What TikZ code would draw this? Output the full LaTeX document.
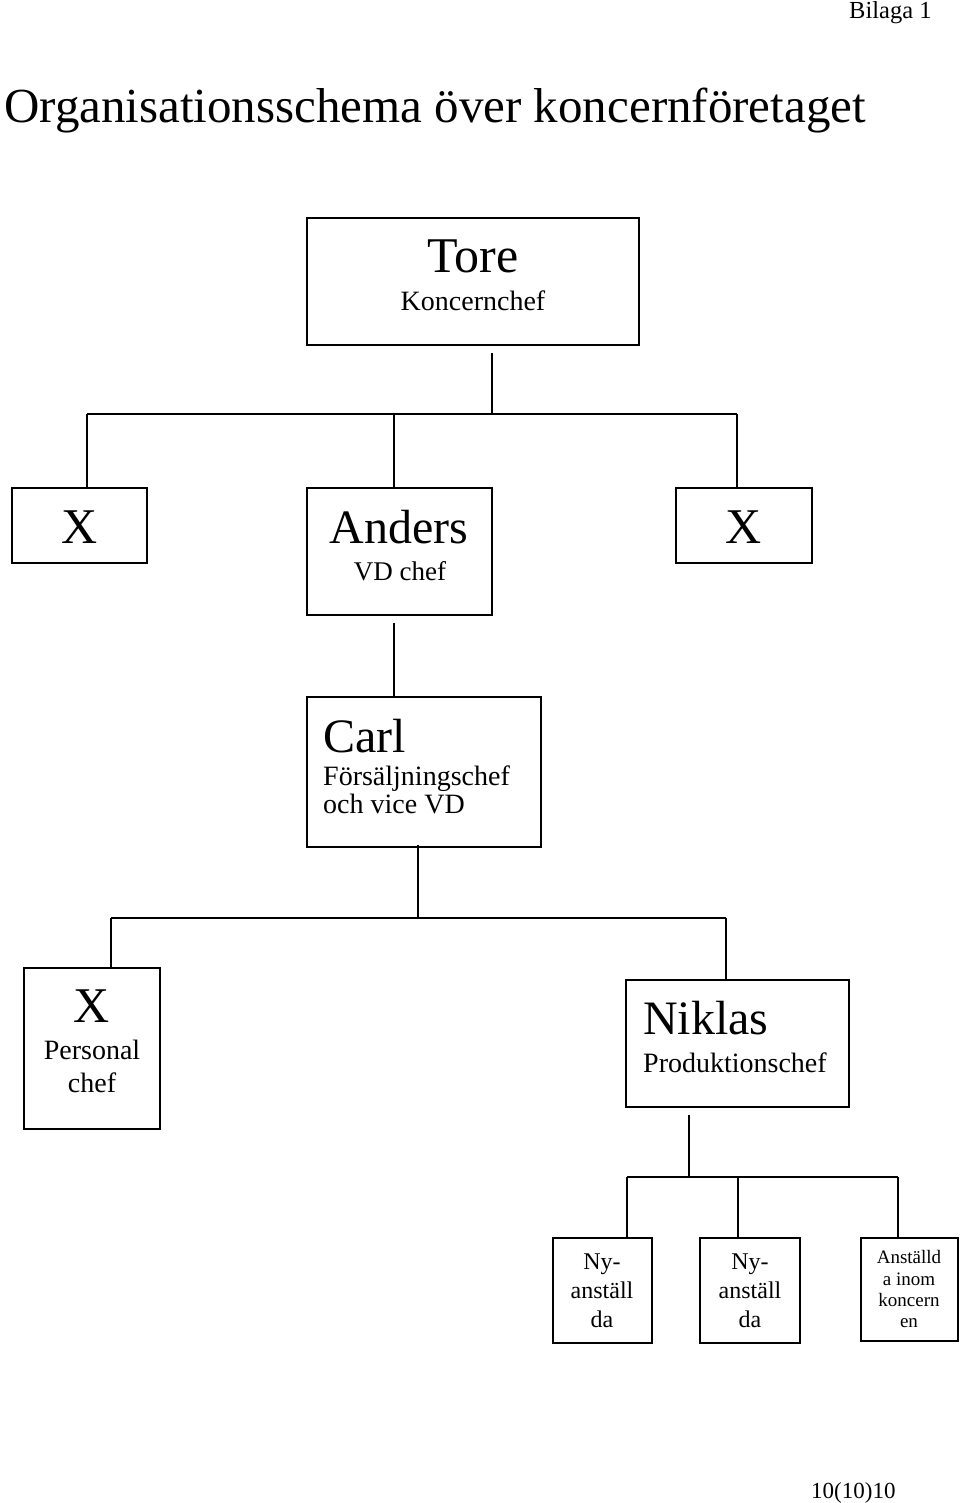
\documentclass[tikz,border=0pt]{standalone}
\usepackage{fontspec}
\setmainfont{Liberation Serif}
\newcommand{\fsz}[1]{\fontsize{#1}{#1}\selectfont}
\begin{document}
\begin{tikzpicture}[x=1pt,y=-1pt,
  box/.style={draw, line width=1.6pt, inner sep=0pt, rectangle},
  conn/.style={line width=1.6pt},
  txt/.style={inner sep=0pt, anchor=base},
  txtl/.style={inner sep=0pt, anchor=base west}]
\useasboundingbox (0,0) rectangle (960,1503);
% header
\node[txtl, font=\fsz{24.5}] (bilaga) at (849,19) {Bilaga 1};
\node[txtl, font=\fsz{49}] (title) at (4,123) {Organisationsschema över koncernföretaget};
% boxes
\node[box, minimum width=332, minimum height=127] (tore) at (473,281.5) {};
\node[box, minimum width=135, minimum height=75] (xl) at (79.5,525.5) {};
\node[box, minimum width=185, minimum height=127] (anders) at (399.5,551.5) {};
\node[box, minimum width=136, minimum height=75] (xr) at (744,525.5) {};
\node[box, minimum width=234, minimum height=150] (carl) at (424,772) {};
\node[box, minimum width=136, minimum height=161] (pers) at (92,1048.5) {};
\node[box, minimum width=223, minimum height=127] (niklas) at (737.5,1043.5) {};
\node[box, minimum width=99, minimum height=105] (ny1) at (602.5,1290.5) {};
\node[box, minimum width=100, minimum height=105] (ny2) at (750,1290.5) {};
\node[box, minimum width=97, minimum height=103] (ans) at (909.5,1289.5) {};
% texts
\node[txt, font=\fsz{50}] at (473,273) {Tore};
\node[txt, font=\fsz{28}] at (473,310) {Koncernchef};
\node[txt, font=\fsz{50}] at (80,543) {X};
\node[txt, font=\fsz{48}] at (399,543) {Anders};
\node[txt, font=\fsz{27}] at (400,580) {VD chef};
\node[txt, font=\fsz{50}] at (744,543) {X};
\node[txtl, font=\fsz{48}] at (323,752) {Carl};
\node[txtl, font=\fsz{28}] at (323,785) {Försäljningschef};
\node[txtl, font=\fsz{28}] at (323,813) {och vice VD};
\node[txt, font=\fsz{50}] at (92,1022) {X};
\node[txt, font=\fsz{28}] at (92,1059) {Personal};
\node[txt, font=\fsz{28}] at (92,1092) {chef};
\node[txtl, font=\fsz{48}] at (643,1034) {Niklas};
\node[txtl, font=\fsz{28}] at (643,1072) {Produktionschef};
\node[txt, font=\fsz{24}] at (602,1269) {Ny-};
\node[txt, font=\fsz{24}] at (602,1298) {anställ};
\node[txt, font=\fsz{24}] at (602,1327) {da};
\node[txt, font=\fsz{24}] at (750,1269) {Ny-};
\node[txt, font=\fsz{24}] at (750,1298) {anställ};
\node[txt, font=\fsz{24}] at (750,1327) {da};
\node[txt, font=\fsz{19}] at (909,1263) {Anställd};
\node[txt, font=\fsz{19}] at (909,1285) {a inom};
\node[txt, font=\fsz{19}] at (909,1306) {koncern};
\node[txt, font=\fsz{19}] at (909,1327) {en};
\node[txtl, font=\fsz{23}] (page) at (811,1498) {10(10)10};
% connector points
\coordinate (t-out) at (492,353);
\coordinate (j1) at (492,414);
\coordinate (j1l) at (87,414);
\coordinate (j1m) at (394,414);
\coordinate (j1r) at (737,414);
\coordinate (xl-in) at (87,488);
\coordinate (an-in) at (394,488);
\coordinate (xr-in) at (737,488);
\coordinate (an-out) at (394,623);
\coordinate (ca-in) at (394,697);
\coordinate (ca-out) at (418,845);
\coordinate (j2) at (418,918);
\coordinate (j2l) at (111,918);
\coordinate (j2r) at (726,918);
\coordinate (pe-in) at (111,968);
\coordinate (ni-in) at (726,980);
\coordinate (ni-out) at (689,1115);
\coordinate (j3) at (689,1177);
\coordinate (j3l) at (627,1177);
\coordinate (j3m) at (738,1177);
\coordinate (j3r) at (898,1177);
\coordinate (ny1-in) at (627,1238);
\coordinate (ny2-in) at (738,1238);
\coordinate (ans-in) at (898,1238);
% connectors
\draw[conn] (t-out) -- (j1);
\draw[conn] (j1l) -- (j1r);
\draw[conn] (j1l) -- (xl-in);
\draw[conn] (j1m) -- (an-in);
\draw[conn] (j1r) -- (xr-in);
\draw[conn] (an-out) -- (ca-in);
\draw[conn] (ca-out) -- (j2);
\draw[conn] (j2l) -- (j2r);
\draw[conn] (j2l) -- (pe-in);
\draw[conn] (j2r) -- (ni-in);
\draw[conn] (ni-out) -- (j3);
\draw[conn] (j3l) -- (j3r);
\draw[conn] (j3l) -- (ny1-in);
\draw[conn] (j3m) -- (ny2-in);
\draw[conn] (j3r) -- (ans-in);
\end{tikzpicture}
\end{document}
